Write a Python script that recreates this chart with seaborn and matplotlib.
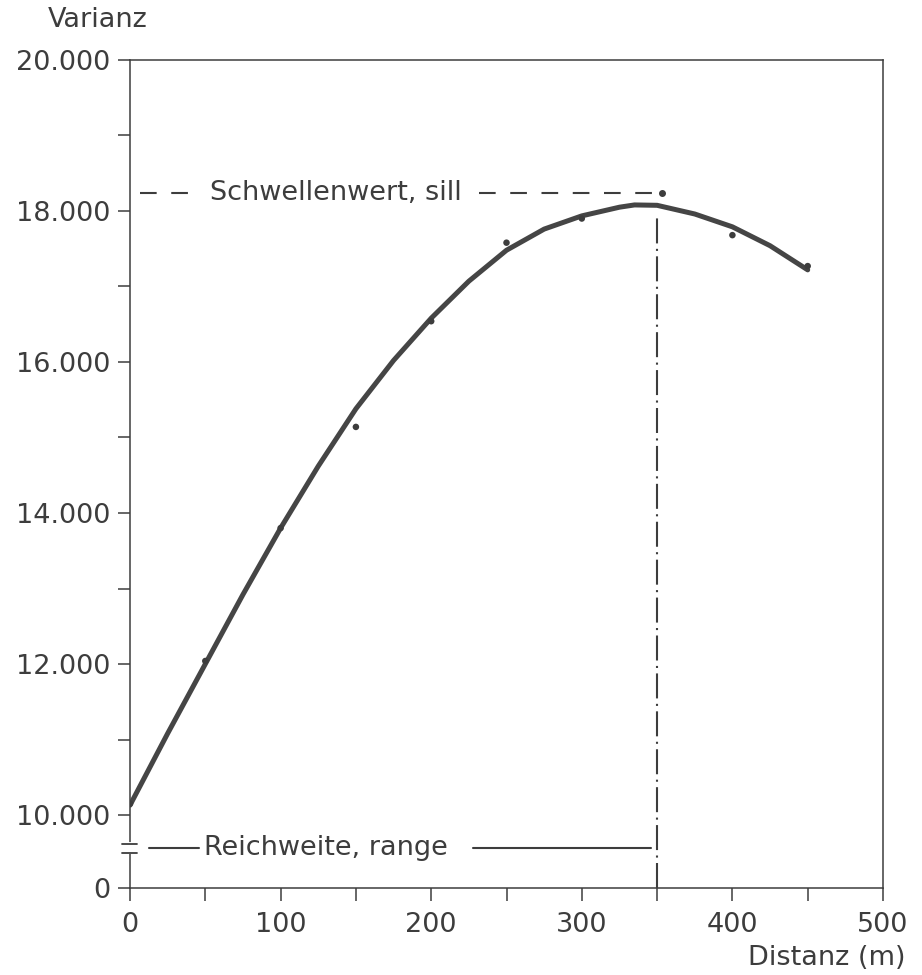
import matplotlib
matplotlib.use("Agg")
import matplotlib.pyplot as plt
import matplotlib.transforms as mtransforms
import seaborn as sns

# measured semivariogram points
distanz = [0, 50, 100, 150, 200, 250, 300, 400, 450]
varianz = [10150, 12040, 13800, 15140, 16540, 17580, 17900, 17680, 17270]

# fitted model curve
kurve_x = [0, 25, 50, 75, 100, 125, 150, 175, 200, 225, 250, 275, 300, 325, 335, 350, 375, 400, 425, 450]
kurve_y = [10130, 11080, 12000, 12920, 13800, 14620, 15380, 16020, 16580, 17070, 17480, 17760, 17935,
           18050, 18080, 18075, 17960, 17790, 17540, 17220]

sill = 18240
reichweite = 350

y_ticks = [10000, 12000, 14000, 16000, 18000, 20000]
y_labels = ["10.000", "12.000", "14.000", "16.000", "18.000", "20.000"]
x_ticks = [0, 100, 200, 300, 400, 500]
x_labels = ["0", "100", "200", "300", "400", "500"]

# y axis is broken below 10.000; "0" sits at this plotting position
NULL_POS = 9033
BREAK_POS = 9560

ink = "#3d3d3d"
fs = 19.5

sns.set_style("ticks")
plt.rcParams["font.family"] = ["DejaVu Sans"]

fig = plt.figure(figsize=(9.22, 9.75), dpi=100)
ax = fig.add_axes([0.141, 0.0892, 0.8167, 0.8493])

sns.lineplot(x=kurve_x, y=kurve_y, ax=ax, color="#454545", linewidth=3.6, zorder=3)
sns.scatterplot(x=distanz, y=varianz, ax=ax, color=ink, s=22, edgecolor="none", zorder=4)

ax.set_xlim(0, 500)
ax.set_ylim(NULL_POS, 20000)

ax.set_yticks([NULL_POS] + y_ticks)
ax.set_yticklabels(["0"] + y_labels)
ax.set_yticks([11000, 13000, 15000, 17000, 19000], minor=True)
ax.set_xticks(x_ticks)
ax.set_xticklabels(x_labels)
ax.set_xticks([50, 150, 250, 350, 450], minor=True)

ax.tick_params(which="both", direction="out", length=9, width=1.1, color=ink,
               labelcolor=ink, labelsize=fs)
ax.tick_params(axis="y", which="both", pad=5)
ax.tick_params(axis="x", which="both", pad=8)

for s in ax.spines.values():
    s.set_visible(True)
    s.set_color(ink)
    s.set_linewidth(1.1)

# axis break marks
trans = mtransforms.blended_transform_factory(ax.transAxes, ax.transData)
ax.plot([0, 0], [BREAK_POS - 55, BREAK_POS + 55], transform=trans, color="white",
        lw=3, clip_on=False, zorder=6)
for yb in [BREAK_POS - 60, BREAK_POS + 60]:
    ax.plot([-0.01, 0.009], [yb, yb], transform=trans, color=ink, lw=1.3,
            clip_on=False, zorder=7)

# sill (Schwellenwert)
ax.plot([6.5, 47], [sill, sill], color=ink, lw=1.5, dashes=(8, 7), zorder=2)
ax.plot([232, 352], [sill, sill], color=ink, lw=1.5, dashes=(8, 7), zorder=2)
ax.plot([353], [sill], "o", color=ink, ms=4, zorder=2)
ax.text(53, sill, "Schwellenwert, sill", fontsize=fs, color=ink, va="center", ha="left")

# range (Reichweite)
ax.plot([reichweite, reichweite], [NULL_POS, 17950], color=ink, lw=1.5,
        dashes=(12, 2.6, 1, 2.6), zorder=2)
ax.plot([12.5, 46], [BREAK_POS, BREAK_POS], color=ink, lw=1.5, zorder=2)
ax.plot([228, 346], [BREAK_POS, BREAK_POS], color=ink, lw=1.5, zorder=2)
ax.text(49, BREAK_POS, "Reichweite, range", fontsize=fs, color=ink, va="center", ha="left")

fig.text(48 / 922, 1 - 20 / 975, "Varianz", fontsize=fs, color=ink, ha="left", va="center")
fig.text(905 / 922, 1 - 958 / 975, "Distanz (m)", fontsize=fs, color=ink, ha="right", va="center")

fig.savefig("out.png", dpi=100, facecolor="white")
